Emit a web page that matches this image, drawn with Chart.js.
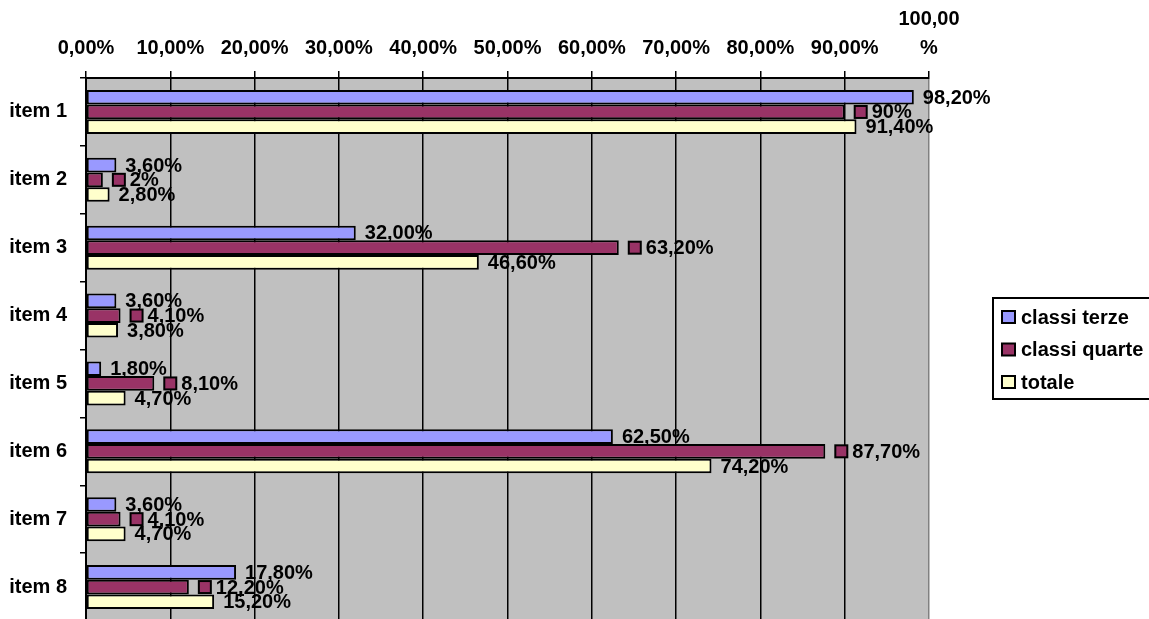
<!DOCTYPE html>
<html><head><meta charset="utf-8">
<script src="https://cdn.jsdelivr.net/npm/chart.js@4/dist/chart.umd.min.js"></script>
<style>html,body{margin:0;padding:0;background:#fff;overflow:hidden}#wrap{width:1149px;height:621px;position:relative}</style>
</head><body><div id="wrap"><canvas id="c"></canvas></div>
<script>
const categories = ['item 1','item 2','item 3','item 4','item 5','item 6','item 7','item 8'];
const seriesNames = ['classi terze','classi quarte','totale'];
const seriesColors = ['#9999ff','#993366','#ffffcc'];
const terze  = [98.2, 3.6, 32.0, 3.6, 1.8, 62.5, 3.6, 17.8];
const quarte = [90.0, 2.0, 63.2, 4.1, 8.1, 87.7, 4.1, 12.2];
const totale = [91.4, 2.8, 46.6, 3.8, 4.7, 74.2, 4.7, 15.2];
const labelsTerze  = ['98,20%','3,60%','32,00%','3,60%','1,80%','62,50%','3,60%','17,80%'];
const labelsQuarte = ['90%','2%','63,20%','4,10%','8,10%','87,70%','4,10%','12,20%'];
const labelsTotale = ['91,40%','2,80%','46,60%','3,80%','4,70%','74,20%','4,70%','15,20%'];
const xTickLabels = ['0,00%','10,00%','20,00%','30,00%','40,00%','50,00%','60,00%','70,00%','80,00%','90,00%',['100,00','%']];

const FONT = '"Liberation Sans", Arial, sans-serif';
Chart.defaults.font.family = FONT;

const bgPlugin = {
  id: 'bg',
  beforeDraw(chart) {
    const {ctx, chartArea: a} = chart;
    ctx.save();
    ctx.fillStyle = '#fff';
    ctx.fillRect(0, 0, chart.width, chart.height);
    ctx.fillStyle = '#c0c0c0';
    ctx.fillRect(a.left, a.top, a.right - a.left, a.bottom - a.top);
    ctx.restore();
  }
};

const allLabels = [labelsTerze, labelsQuarte, labelsTotale];
const labelPlugin = {
  id: 'dl',
  afterDatasetsDraw(chart) {
    const ctx = chart.ctx;
    ctx.save();
    ctx.font = 'bold 20px ' + FONT;
    ctx.textBaseline = 'middle';
    ctx.textAlign = 'left';
    chart.data.datasets.forEach((ds, di) => {
      const meta = chart.getDatasetMeta(di);
      meta.data.forEach((bar, i) => {
        const x = bar.x, y = bar.y;
        let tx = x + 9;
        if (di === 1) {
          ctx.fillStyle = ds.backgroundColor;
          ctx.fillRect(x + 10, y - 6, 12, 12);
          ctx.strokeStyle = '#000';
          ctx.lineWidth = 2;
          ctx.strokeRect(x + 10, y - 6, 12, 12);
          tx = x + 27;
        }
        ctx.fillStyle = '#000';
        ctx.fillText(allLabels[di][i], tx, y + 1);
      });
    });
    ctx.restore();
  }
};

const legendPlugin = {
  id: 'lg',
  afterDraw(chart) {
    const ctx = chart.ctx;
    ctx.save();
    ctx.fillStyle = '#fff';
    ctx.fillRect(993, 298, 170, 101);
    ctx.strokeStyle = '#000';
    ctx.lineWidth = 2;
    ctx.strokeRect(993, 298, 170, 101);
    ctx.font = 'bold 20px ' + FONT;
    ctx.textBaseline = 'middle';
    ctx.textAlign = 'left';
    chart.data.datasets.forEach((ds, i) => {
      const cy = 317 + i * 32.5;
      ctx.fillStyle = ds.backgroundColor;
      ctx.fillRect(1002, cy - 6, 13, 12);
      ctx.strokeRect(1002, cy - 6, 13, 12);
      ctx.fillStyle = '#000';
      ctx.fillText(ds.label, 1021, cy + 1);
    });
    ctx.restore();
  }
};

new Chart(document.getElementById('c'), {
  type: 'bar',
  data: {
    labels: categories,
    datasets: [terze, quarte, totale].map((d, i) => ({
      label: seriesNames[i],
      data: d,
      backgroundColor: seriesColors[i],
      borderColor: '#000',
      borderWidth: 2,
      borderSkipped: false,
      categoryPercentage: 0.65,
      barPercentage: 1.0
    }))
  },
  options: {
    indexAxis: 'y',
    responsive: true,
    maintainAspectRatio: false,
    animation: false,
    layout: { padding: { left: 0, top: 0, right: 220, bottom: 0 } },
    plugins: { legend: { display: false }, tooltip: { enabled: false } },
    scales: {
      x: {
        type: 'linear',
        position: 'top',
        min: 0, max: 100,
        afterFit(s) { s.height = 78; s.paddingLeft = 0; s.paddingRight = 0; },
        ticks: {
          stepSize: 10,
          color: '#000',
          padding: 8,
          font: { size: 20, weight: 'bold', lineHeight: 1.45 },
          maxRotation: 0, minRotation: 0,
          callback: (v, i) => xTickLabels[i]
        },
        grid: {
          color: c => (c.tick && c.tick.value === 100) ? '#808080' : '#000',
          lineWidth: 1.5,
          tickLength: 7,
          tickColor: '#000'
        },
        border: { color: '#000', width: 2 }
      },
      y: {
        afterFit(s) { s.width = 86; s.paddingTop = 0; s.paddingBottom = 0; },
        ticks: {
          color: '#000',
          padding: 13,
          font: { size: 20, weight: 'bold' }
        },
        grid: {
          drawOnChartArea: false,
          tickLength: 6,
          tickColor: '#000',
          lineWidth: 1.5
        },
        border: { color: '#000', width: 2 }
      }
    }
  },
  plugins: [bgPlugin, labelPlugin, legendPlugin]
});
</script>
</body></html>
